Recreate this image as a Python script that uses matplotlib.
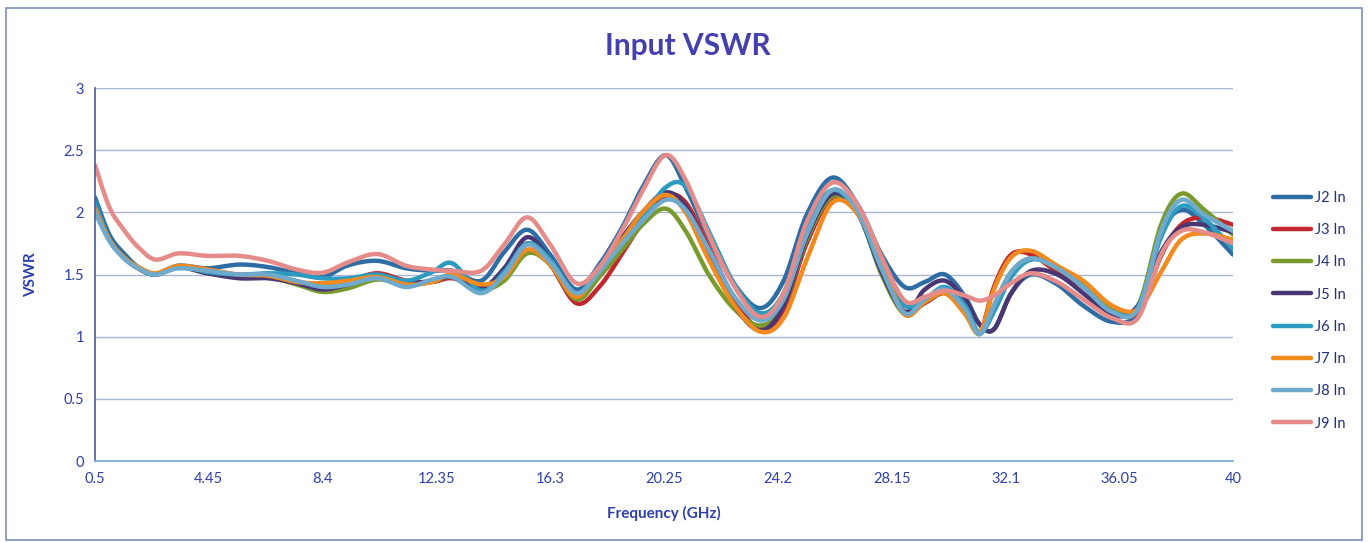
import numpy as np
import matplotlib
matplotlib.use('Agg')
import matplotlib.pyplot as plt
from matplotlib.patches import Rectangle

plt.rcParams['font.family'] = ['Lato', 'DejaVu Sans']

# frequency grid (GHz) shared by all ports
freq = [0.5, 1.0, 1.5, 2.0, 2.6, 3.4, 4.4, 5.5, 6.5, 7.5, 8.4, 9.3, 10.3, 11.3, 12.2,
        12.9, 13.9, 14.7, 15.5, 16.3, 17.2, 18.0, 18.8, 19.5, 20.3, 21.0, 21.8, 22.7,
        23.6, 24.4, 25.2, 26.1, 27.0, 27.8, 28.6, 29.3, 30.0, 30.7, 31.2, 31.7, 32.3,
        33.0, 33.9, 34.8, 35.8, 36.7, 37.5, 38.2, 39.0, 40.0]

j2 = [2.12, 1.82, 1.67, 1.56, 1.50, 1.57, 1.55, 1.58, 1.56, 1.51, 1.48, 1.575, 1.61, 1.55, 1.53,
      1.53, 1.45, 1.68, 1.86, 1.66, 1.38, 1.58, 1.88, 2.20, 2.46, 2.20, 1.80, 1.42,
      1.23, 1.45, 1.98, 2.28, 2.05, 1.66, 1.40, 1.44, 1.50, 1.32, 1.10, 1.06, 1.35,
      1.50, 1.42, 1.25, 1.12, 1.20, 1.82, 2.02, 1.90, 1.66]
j3 = [2.05, 1.78, 1.64, 1.55, 1.50, 1.56, 1.52, 1.48, 1.48, 1.44, 1.42, 1.45, 1.51, 1.45, 1.44,
      1.47, 1.40, 1.50, 1.75, 1.58, 1.27, 1.40, 1.67, 1.92, 2.13, 2.08, 1.72, 1.30,
      1.06, 1.22, 1.75, 2.12, 2.00, 1.55, 1.20, 1.27, 1.35, 1.22, 1.03, 1.40, 1.66,
      1.66, 1.52, 1.40, 1.20, 1.20, 1.65, 1.90, 1.96, 1.90]
j4 = [2.03, 1.78, 1.64, 1.55, 1.50, 1.56, 1.51, 1.48, 1.48, 1.42, 1.36, 1.39, 1.46, 1.42, 1.44,
      1.48, 1.38, 1.45, 1.67, 1.58, 1.30, 1.48, 1.70, 1.90, 2.03, 1.85, 1.50, 1.22,
      1.09, 1.25, 1.78, 2.13, 1.98, 1.50, 1.18, 1.28, 1.35, 1.20, 1.02, 1.25, 1.52,
      1.63, 1.55, 1.42, 1.22, 1.25, 1.90, 2.15, 2.02, 1.82]
j5 = [2.03, 1.78, 1.64, 1.55, 1.50, 1.56, 1.51, 1.47, 1.47, 1.43, 1.38, 1.42, 1.48, 1.43, 1.45,
      1.48, 1.39, 1.55, 1.80, 1.62, 1.35, 1.55, 1.80, 2.00, 2.16, 2.05, 1.68, 1.25,
      1.05, 1.25, 1.80, 2.15, 1.98, 1.52, 1.20, 1.38, 1.45, 1.30, 1.10, 1.06, 1.35,
      1.53, 1.50, 1.35, 1.17, 1.25, 1.68, 1.88, 1.90, 1.84]
j6 = [2.08, 1.78, 1.64, 1.55, 1.50, 1.57, 1.52, 1.50, 1.51, 1.50, 1.47, 1.47, 1.50, 1.45, 1.52,
      1.59, 1.37, 1.52, 1.75, 1.62, 1.35, 1.55, 1.78, 1.95, 2.20, 2.21, 1.85, 1.42,
      1.19, 1.35, 1.88, 2.18, 1.98, 1.55, 1.25, 1.30, 1.40, 1.25, 1.03, 1.20, 1.48,
      1.62, 1.56, 1.40, 1.20, 1.24, 1.80, 2.05, 1.95, 1.71]
j7 = [2.03, 1.78, 1.64, 1.56, 1.51, 1.57, 1.54, 1.50, 1.49, 1.44, 1.43, 1.45, 1.48, 1.42, 1.44,
      1.50, 1.42, 1.48, 1.70, 1.58, 1.32, 1.55, 1.78, 2.00, 2.14, 2.00, 1.62, 1.25,
      1.04, 1.15, 1.62, 2.08, 1.98, 1.58, 1.18, 1.28, 1.35, 1.18, 1.03, 1.38, 1.64,
      1.69, 1.57, 1.45, 1.25, 1.22, 1.52, 1.78, 1.83, 1.78]
j8 = [2.00, 1.77, 1.63, 1.55, 1.50, 1.55, 1.53, 1.50, 1.50, 1.45, 1.40, 1.42, 1.47, 1.40, 1.46,
      1.48, 1.35, 1.50, 1.74, 1.60, 1.35, 1.52, 1.75, 1.93, 2.10, 2.02, 1.70, 1.32,
      1.13, 1.30, 1.82, 2.18, 2.00, 1.55, 1.19, 1.30, 1.38, 1.22, 1.02, 1.25, 1.52,
      1.63, 1.55, 1.40, 1.20, 1.22, 1.85, 2.10, 1.98, 1.85]
j9 = [2.38, 2.04, 1.86, 1.72, 1.62, 1.67, 1.65, 1.65, 1.61, 1.54, 1.515, 1.60, 1.665, 1.57, 1.54,
      1.53, 1.53, 1.74, 1.96, 1.74, 1.43, 1.56, 1.86, 2.17, 2.46, 2.26, 1.82, 1.40,
      1.16, 1.35, 1.92, 2.24, 2.05, 1.64, 1.29, 1.32, 1.37, 1.33, 1.29, 1.33, 1.43,
      1.51, 1.44, 1.30, 1.15, 1.15, 1.66, 1.85, 1.84, 1.75]

labels = ['J2 In', 'J3 In', 'J4 In', 'J5 In', 'J6 In', 'J7 In', 'J8 In', 'J9 In']
series = [j2, j3, j4, j5, j6, j7, j8, j9]
colors = ['#2E6DA4', '#C0282D', '#7A9A2E', '#4A3673', '#2B9BBF', '#F28A1E', '#6FA9CC', '#E58C8A']

xticks = [0.5, 4.45, 8.4, 12.35, 16.3, 20.25, 24.2, 28.15, 32.1, 36.05, 40]
xticklabels = ['0.5', '4.45', '8.4', '12.35', '16.3', '20.25', '24.2', '28.15', '32.1', '36.05', '40']
yticks = [0, 0.5, 1, 1.5, 2, 2.5, 3]
yticklabels = ['0', '0.5', '1', '1.5', '2', '2.5', '3']


def smooth(x, y, n=16):
    # Excel style smoothed line (cardinal spline through the points)
    P = np.column_stack([x, y]).astype(float)
    P = np.vstack([P[0], P, P[-1]])
    t = np.linspace(0, 1, n, endpoint=False)[:, None]
    h00 = 2*t**3 - 3*t**2 + 1
    h10 = t**3 - 2*t**2 + t
    h01 = -2*t**3 + 3*t**2
    h11 = t**3 - t**2
    out = []
    for i in range(1, len(P) - 2):
        m1 = (P[i+1] - P[i-1]) / 2
        m2 = (P[i+2] - P[i]) / 2
        out.append(h00*P[i] + h10*m1 + h01*P[i+1] + h11*m2)
    out.append(P[-2][None, :])
    out = np.vstack(out)
    return out[:, 0], out[:, 1]


fig = plt.figure(figsize=(13.69, 5.42), dpi=100)
ax = fig.add_axes([0.0694, 0.1494, 0.8313, 0.6882])

for s, lab, c in zip(series, labels, colors):
    xs, ys = smooth(freq, s)
    ax.plot(xs, ys, color=c, lw=3.2, label=lab, solid_capstyle='round')

ax.set_xlim(0.5, 40)
ax.set_ylim(0, 3)
ax.set_xticks(xticks)
ax.set_xticklabels(xticklabels)
ax.set_yticks(yticks)
ax.set_yticklabels(yticklabels)
ax.tick_params(axis='both', length=0, labelsize=10.5, labelcolor='#2E3FA8', pad=8)
ax.yaxis.grid(True, color='#A9B6D6', lw=1.0)
ax.set_axisbelow(True)
for sp in ['top', 'right']:
    ax.spines[sp].set_visible(False)
ax.spines['left'].set_color('#4A5A9A')
ax.spines['left'].set_linewidth(1.2)
ax.spines['bottom'].set_color('#6FA8DC')
ax.spines['bottom'].set_linewidth(1.2)

ax.set_xlabel('Frequency (GHz)', fontsize=11, fontweight='bold', color='#2E3FA8', labelpad=14)
ax.set_ylabel('VSWR', fontsize=11, fontweight='bold', color='#2E3FA8', labelpad=18)
fig.text(0.5025, 0.915, 'Input VSWR', ha='center', va='center', fontsize=21.5,
         fontweight='bold', color='#4340B0')

leg = fig.legend(loc='upper left', bbox_to_anchor=(0.92, 0.672), frameon=False,
                 fontsize=10.5, handlelength=2.6, handletextpad=0.3, labelspacing=1.25)
for t in leg.get_texts():
    t.set_color('#1F2F7A')

fig.patches.append(Rectangle((0.0044, 0.004), 0.9905, 0.981, transform=fig.transFigure,
                             fill=False, edgecolor='#7F8FC0', lw=1.2))

fig.savefig('out.png', dpi=100, facecolor='white')
